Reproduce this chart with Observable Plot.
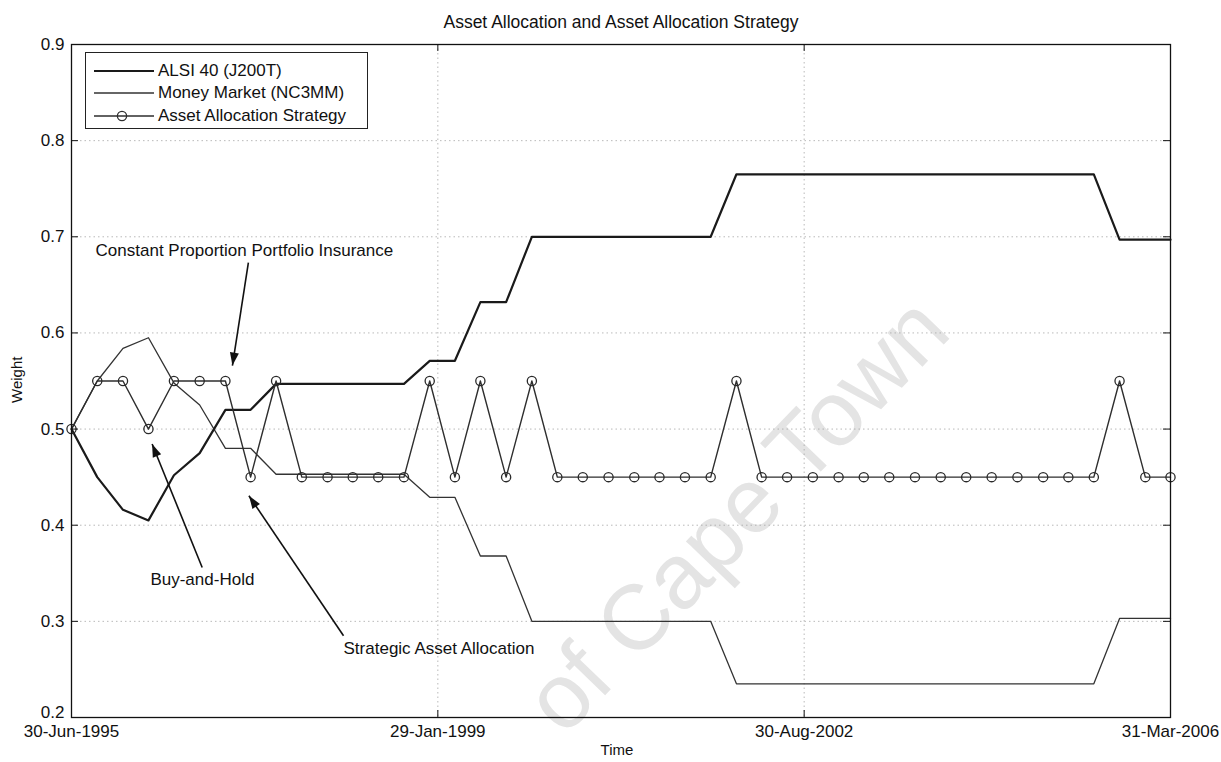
<!DOCTYPE html>
<html><head><meta charset="utf-8">
<script src="https://cdn.jsdelivr.net/npm/d3@7"></script>
<script src="https://cdn.jsdelivr.net/npm/@observablehq/plot@0.6"></script>
<style>
body{margin:0;background:#fff;}
#wrap{position:relative;width:1221px;height:762px;font-family:"Liberation Sans",Arial,sans-serif;color:#111;}
#legend{position:absolute;left:85px;top:52px;width:281px;height:75px;border:1.2px solid #222;background:#fff;font-size:17px;}
#legend .row{position:absolute;left:0;height:22px;display:flex;align-items:center;}
#legend svg{display:block;}
</style></head><body><div id="wrap"></div>
<script>
// ---- data ----
const dates = [
  "1995-06-30","1995-09-30","1995-12-31",
  "1996-03-31","1996-06-30","1996-09-30","1996-12-31",
  "1997-03-31","1997-06-30","1997-09-30","1997-12-31",
  "1998-03-31","1998-06-30","1998-09-30","1998-12-31",
  "1999-03-31","1999-06-30","1999-09-30","1999-12-31",
  "2000-03-31","2000-06-30","2000-09-30","2000-12-31",
  "2001-03-31","2001-06-30","2001-09-30","2001-12-31",
  "2002-03-31","2002-06-30","2002-09-30","2002-12-31",
  "2003-03-31","2003-06-30","2003-09-30","2003-12-31",
  "2004-03-31","2004-06-30","2004-09-30","2004-12-31",
  "2005-03-31","2005-06-30","2005-09-30","2005-12-31",
  "2006-03-31"
];
const alsi = [0.5,0.45,0.416,0.405,0.452,0.475,0.52,0.52,0.547,0.547,0.547,0.547,0.547,0.547,0.571,0.571,0.632,0.632,
  0.70,0.70,0.70,0.70,0.70,0.70,0.70,0.70,
  0.765,0.765,0.765,0.765,0.765,0.765,0.765,0.765,0.765,0.765,0.765,0.765,0.765,0.765,0.765,
  0.697,0.697,0.697];
const moneyMarket = [0.5,0.55,0.584,0.595,0.548,0.525,0.48,0.48,0.453,0.453,0.453,0.453,0.453,0.453,0.429,0.429,0.368,0.368,
  0.30,0.30,0.30,0.30,0.30,0.30,0.30,0.30,
  0.235,0.235,0.235,0.235,0.235,0.235,0.235,0.235,0.235,0.235,0.235,0.235,0.235,0.235,0.235,
  0.303,0.303,0.303];
const strategy = [0.5,0.55,0.55,0.5,0.55,0.55,0.55,0.45,0.55,0.45,0.45,0.45,0.45,0.45,0.55,0.45,0.55,0.45,0.55,
  0.45,0.45,0.45,0.45,0.45,0.45,0.45,0.55,0.45,
  0.45,0.45,0.45,0.45,0.45,0.45,0.45,0.45,0.45,0.45,0.45,0.45,0.45,
  0.55,0.45,0.45];
const seriesNames = ["ALSI 40 (J200T)","Money Market (NC3MM)","Asset Allocation Strategy"];
const xTickDates = ["1995-06-30","1999-01-29","2002-08-30","2006-03-31"];
const xTickLabels = ["30-Jun-1995","29-Jan-1999","30-Aug-2002","31-Mar-2006"];
const yTicks = [0.2,0.3,0.4,0.5,0.6,0.7,0.8,0.9];
const titleText = "Asset Allocation and Asset Allocation Strategy";
const xLabel = "Time";
const yLabel = "Weight";
const annLabels = ["Constant Proportion Portfolio Insurance","Buy-and-Hold","Strategic Asset Allocation"];
const annTextAt = [["1995-09-24",0.686],["1996-04-07",0.344],["1998-02-26",0.2715]];
const annArrowFrom = [["1997-03-23",0.673],["1996-10-09",0.356],["1998-02-26",0.285]];
const annArrowTo = [["1997-01-25",0.566],["1996-04-13",0.4845],["1997-03-25",0.4307]];
const watermark = {text:"of Cape Town", at:["2002-01-04",0.41]};

// ---- build ----
const D = s => new Date(s + "T00:00:00Z");
const rows = dates.map((d,i)=>({date:D(d), alsi:alsi[i], mm:moneyMarket[i], strat:strategy[i]}));
const ann = annLabels.map((l,i)=>({label:l,
  tx:D(annTextAt[i][0]), ty:annTextAt[i][1],
  x1:D(annArrowFrom[i][0]), y1:annArrowFrom[i][1],
  x2:D(annArrowTo[i][0]), y2:annArrowTo[i][1]}));
const xt = xTickDates.map(D);
const W=1221,H=762,mL=71,mR=51,mT=44,mB=45;
const pw=W-mL-mR, ph=H-mT-mB;
const ink="#111";

const chart = Plot.plot({
  width:W, height:H, marginLeft:mL, marginRight:mR, marginTop:mT, marginBottom:mB,
  style:{fontFamily:'"Liberation Sans",Arial,sans-serif', fontSize:"17px", color:ink, background:"#fff", overflow:"visible"},
  x:{type:"utc", domain:[xt[0], xt[3]]},
  y:{domain:[0.2,0.9]},
  marks:[
    Plot.text([watermark], {x:d=>D(d.at[0]), y:d=>d.at[1], text:"text", rotate:-46, fontSize:92, fill:"#e4e4e4", fontFamily:'"Liberation Sans",Arial,sans-serif'}),
    Plot.gridY(yTicks.slice(1,-1), {stroke:"#a8a8a8", strokeOpacity:0.8, strokeDasharray:"1.5,3"}),
    Plot.gridX(xt.slice(1,3), {stroke:"#a8a8a8", strokeOpacity:0.8, strokeDasharray:"1.5,3"}),
    Plot.line(rows, {x:"date", y:"mm", stroke:"#333", strokeWidth:1.3}),
    Plot.line(rows, {x:"date", y:"alsi", stroke:"#1a1a1a", strokeWidth:2.2}),
    Plot.line(rows, {x:"date", y:"strat", stroke:"#2e2e2e", strokeWidth:1.4}),
    Plot.dot(rows, {x:"date", y:"strat", r:4.6, stroke:"#2a2a2a", strokeWidth:1.3, fill:"none"}),
    Plot.link(ann, {x1:"x1", y1:"y1", x2:"x2", y2:"y2", stroke:"#111", strokeWidth:1.6, markerEnd:"arrow"}),
    Plot.text(ann, {x:"tx", y:"ty", text:"label", textAnchor:"start", fontSize:17, fill:ink}),
    Plot.frame({stroke:"#111", strokeWidth:1.3}),
    Plot.tickY(yTicks, {y:d=>d, insetRight:pw-7, stroke:"#111"}),
    Plot.tickY(yTicks, {y:d=>d, insetLeft:pw-7, stroke:"#111"}),
    Plot.tickX(xt.slice(1,3), {x:d=>d, insetTop:ph-7, stroke:"#111"}),
    Plot.tickX(xt.slice(1,3), {x:d=>d, insetBottom:ph-7, stroke:"#111"}),
    Plot.axisY(yTicks.slice(1), {tickSize:0, tickPadding:7, tickFormat:d=>d.toFixed(1), label:null, fontSize:17}),
    Plot.axisY(yTicks.slice(0,1), {tickSize:0, tickPadding:7, dy:-5, tickFormat:d=>d.toFixed(1), label:null, fontSize:17}),
    Plot.axisX(xt, {tickSize:0, tickPadding:7, tickFormat:d=>xTickLabels[xt.findIndex(t=>+t===+d)], label:null, fontSize:17}),
    Plot.text([titleText], {frameAnchor:"top", dy:-29, text:d=>d, fontSize:17.5}),
    Plot.text([xLabel], {frameAnchor:"bottom", dy:37, dx:-4, text:d=>d, fontSize:15}),
    Plot.text([yLabel], {frameAnchor:"left", dx:-54, dy:22, rotate:-90, text:d=>d, fontSize:15})
  ]
});

// filled arrowheads like MATLAB annotations
chart.querySelectorAll("marker").forEach(m=>{
  m.setAttribute("viewBox","-14 -6 15 12");
  m.setAttribute("markerWidth","15");
  m.setAttribute("markerHeight","12");
  m.setAttribute("markerUnits","userSpaceOnUse");
  const p=m.querySelector("path");
  if(p){p.setAttribute("d","M-13,-4.5L0,0L-13,4.5Z");p.setAttribute("fill","#111");p.setAttribute("stroke","none");}
});

const wrap=document.getElementById("wrap");
wrap.appendChild(chart);

// legend (MATLAB-style box inside the axes)
const legend=document.createElement("div");
legend.id="legend";
const styles=[{w:2.2,c:"#1a1a1a",m:false},{w:1.3,c:"#333",m:false},{w:1.4,c:"#2e2e2e",m:true}];
const rowTops=[7,29,52];
seriesNames.forEach((name,i)=>{
  const r=document.createElement("div");
  r.className="row"; r.style.top=rowTops[i]+"px";
  const s=styles[i];
  r.innerHTML=`<svg width="72" height="22"><line x1="8" y1="11" x2="68" y2="11" stroke="${s.c}" stroke-width="${s.w}"/>${s.m?`<circle cx="36" cy="11" r="4.6" fill="none" stroke="${s.c}" stroke-width="1.3"/>`:""}</svg><span>${name}</span>`;
  legend.appendChild(r);
});
wrap.appendChild(legend);
</script></body></html>
